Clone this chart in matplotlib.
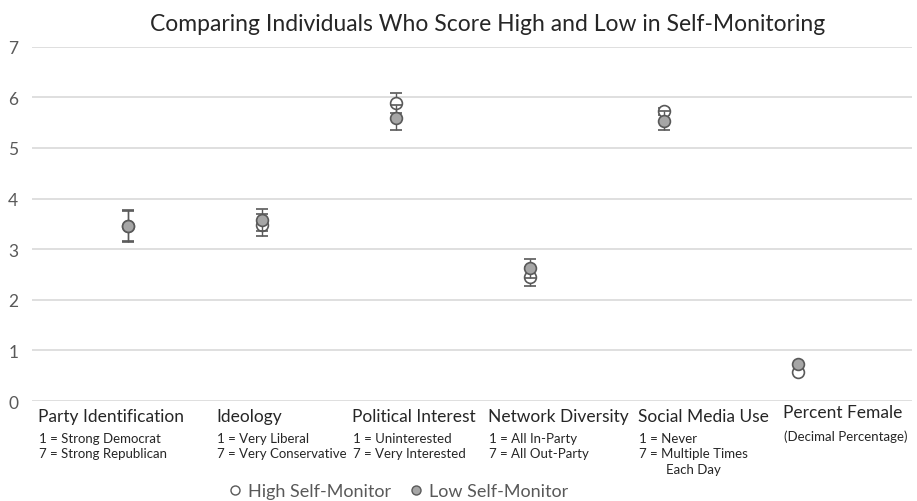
import matplotlib.pyplot as plt
import numpy as np
from matplotlib.lines import Line2D

plt.rcParams['font.family'] = ['Lato', 'DejaVu Sans']

categories = ["Party Identification", "Ideology", "Political Interest",
              "Network Diversity", "Social Media Use", "Percent Female"]
sublabels = ["1 = Strong Democrat\n7 = Strong Republican",
             "1 = Very Liberal\n7 = Very Conservative",
             "1 = Uninterested\n7 = Very Interested",
             "1 = All In-Party\n7 = All Out-Party",
             "1 = Never\n7 = Multiple Times\n        Each Day",
             "(Decimal Percentage)"]

high_mean = [3.46, 3.48, 5.89, 2.46, 5.72, 0.57]
high_err = [0.30, 0.22, 0.20, 0.19, 0.07, 0.0]
low_mean = [3.46, 3.57, 5.60, 2.62, 5.54, 0.73]
low_err = [0.32, 0.22, 0.25, 0.18, 0.19, 0.0]

edge = "#595959"

fig = plt.figure(figsize=(9.17, 5.02), dpi=100)
ax = fig.add_axes([0.035, 0.199, 0.96, 0.706])

x = np.arange(len(categories))
ax.errorbar(x, high_mean, yerr=high_err, fmt="o", color=edge, ecolor=edge,
            markerfacecolor="white", markeredgecolor=edge, markersize=8.5,
            markeredgewidth=1.2, capsize=4, elinewidth=1, zorder=3)
ax.errorbar(x, low_mean, yerr=low_err, fmt="o", color=edge, ecolor=edge,
            markerfacecolor="#a6a6a6", markeredgecolor=edge, markersize=8.5,
            markeredgewidth=1.2, capsize=4, elinewidth=1, zorder=4)

ax.set_ylim(0, 7)
ax.set_xlim(-0.716, 5.85)
ax.set_yticks(range(8))
ax.set_xticks([])
ax.grid(axis="y", color="#d9d9d9", linewidth=1.2)
ax.set_axisbelow(True)
for s in ax.spines.values():
    s.set_visible(False)
ax.tick_params(axis="y", length=0, labelsize=12.5, labelcolor=edge, pad=10)

fig.suptitle("Comparing Individuals Who Score High and Low in Self-Monitoring",
             x=0.532, y=0.972, fontsize=16.5, color="#262626")

# hand-placed category captions under the plot
label_x = [38, 216, 352, 488, 638, 783]
label_y = [417, 417, 417, 417, 417, 413]
sub_y = [433, 433, 433, 433, 433, 430]
for name, sub, lx, ly, sy in zip(categories, sublabels, label_x, label_y, sub_y):
    fig.text(lx / 917, 1 - ly / 502, name, fontsize=12.5, color="#262626",
             va="center", ha="left")
    fig.text(lx / 917 + 0.001, 1 - sy / 502, sub,
             fontsize=9.5, color="#262626", va="top", ha="left", linespacing=1.35)

handles = [Line2D([], [], marker="o", linestyle="none", markersize=6.5,
                  markerfacecolor="white", markeredgecolor=edge),
           Line2D([], [], marker="o", linestyle="none", markersize=6.5,
                  markerfacecolor="#a6a6a6", markeredgecolor=edge)]
fig.legend(handles, ["High Self-Monitor", "Low Self-Monitor"], loc="center",
           bbox_to_anchor=(0.433, 0.02), ncol=2, frameon=False, fontsize=13,
           labelcolor=edge, handletextpad=0.2, columnspacing=0.9, handlelength=1.0)

fig.savefig("out.png", dpi=100)
